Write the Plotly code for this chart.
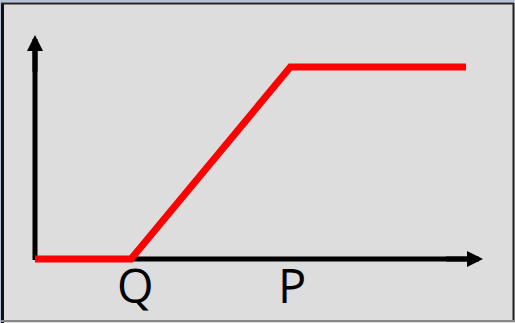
import plotly.graph_objects as go

# Piecewise-linear response (conceptual units: Q = 1, plateau level = 1)
x_pts = [0.0, 1.0, 2.66, 4.49]
y_pts = [0.0, 0.0, 1.0, 1.0]

# Axis label positions and texts
label_x = [1.0, 2.66]
label_text = ["Q", "P"]
label_xshift = [4.5, 2]

# Axis extents (arrow tips)
x_axis_end = 4.667
y_axis_end = 1.167

W, H = 515, 323
# pixel scale: origin at (35, 259); 96 px per x unit, 192 px per y unit
x_range = [-35 / 96, (W - 35) / 96]
y_range = [-(H - 259) / 192, 259 / 192]

fig = go.Figure()

# axis lines (below the red curve)
fig.add_trace(go.Scatter(x=[0, x_axis_end - 0.1], y=[0, 0], mode="lines",
                         line=dict(color="black", width=5), hoverinfo="skip"))
fig.add_trace(go.Scatter(x=[0, 0], y=[-0.005, y_axis_end - 0.05], mode="lines",
                         line=dict(color="black", width=5), hoverinfo="skip"))

# red curve
fig.add_trace(go.Scatter(x=x_pts, y=y_pts, mode="lines",
                         line=dict(color="#FF0000", width=7), hoverinfo="skip"))

annotations = []
# arrowheads
annotations.append(dict(x=x_axis_end, y=0, ax=x_axis_end - 0.4, ay=0,
                        xref="x", yref="y", axref="x", ayref="y", text="",
                        showarrow=True, arrowhead=2, arrowwidth=5, arrowsize=0.64,
                        arrowcolor="black"))
annotations.append(dict(x=0, y=y_axis_end, ax=0, ay=y_axis_end - 0.2,
                        xref="x", yref="y", axref="x", ayref="y", text="",
                        showarrow=True, arrowhead=2, arrowwidth=5, arrowsize=0.64,
                        arrowcolor="black"))
for lx, lt, sh in zip(label_x, label_text, label_xshift):
    annotations.append(dict(x=lx, y=0, xref="x", yref="y", text=lt, showarrow=False,
                            xanchor="center", yanchor="top", xshift=sh, yshift=7,
                            borderpad=0,
                            font=dict(family="Open Sans", size=47, color="black")))

shapes = []
def px_line(x0, y0, x1, y1, color, width):
    shapes.append(dict(type="line", xref="paper", yref="paper",
                       x0=x0 / W, x1=x1 / W, y0=1 - y0 / H, y1=1 - y1 / H,
                       line=dict(color=color, width=width)))

px_line(0, 1, W, 1, "#B8C0D8", 2)
px_line(0.5, 0, 0.5, H, "#B8C0D8", 1)
px_line(2.5, 3.5, 2.5, H, "#111111", 3)
px_line(1, 3.5, 514, 3.5, "#222222", 2)
px_line(513.5, 3, 513.5, 321, "#222222", 2)
px_line(1, 321, 515, 321, "#888888", 2)

fig.update_layout(
    width=W, height=H, margin=dict(l=0, r=0, t=0, b=0),
    paper_bgcolor="#DDDDDD", plot_bgcolor="#DDDDDD",
    showlegend=False,
    xaxis=dict(range=x_range, visible=False, fixedrange=True),
    yaxis=dict(range=y_range, visible=False, fixedrange=True),
    annotations=annotations, shapes=shapes,
)

fig.write_html("out.html", config={"displayModeBar": False},
               post_script="document.body.style.margin='0';document.body.style.overflow='hidden';")
